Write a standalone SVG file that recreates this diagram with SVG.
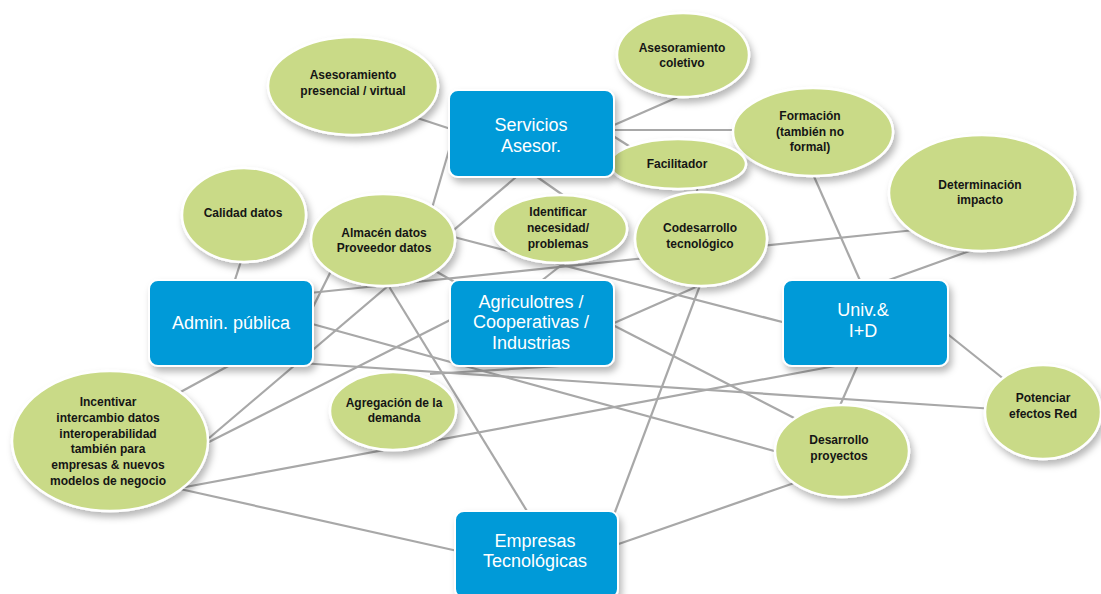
<svg xmlns="http://www.w3.org/2000/svg" width="1101" height="594" viewBox="0 0 1101 594">
<defs>
<filter id="sh" x="-20%" y="-20%" width="150%" height="150%">
<feDropShadow dx="3" dy="5" stdDeviation="3.5" flood-color="#000" flood-opacity="0.28"/>
</filter>
<style>
.bg{fill:#ffffff}
.c line{stroke:#a8a8a8;stroke-width:2.2;fill:none}
.box{fill:#009ad8;stroke:#ffffff;stroke-width:2;filter:url(#sh)}
.ell{fill:#c9da87;stroke:#ffffff;stroke-width:2.5;filter:url(#sh)}
.bt{font-family:"Liberation Sans",Arial,sans-serif;font-size:18px;fill:#ffffff;text-anchor:middle}
.et{font-family:"Liberation Sans",Arial,sans-serif;font-size:12px;font-weight:bold;fill:#151515;text-anchor:middle}
</style>
</defs>
<rect class="bg" x="0" y="0" width="1101" height="594"/>
<g id="connectors" class="c">
<line x1="405" y1="114" x2="460" y2="132"/>
<line x1="685" y1="94" x2="605" y2="129"/>
<line x1="605" y1="130" x2="740" y2="130"/>
<line x1="610" y1="134" x2="632" y2="148"/>
<line x1="452" y1="140" x2="430" y2="215"/>
<line x1="522" y1="172" x2="195" y2="450"/>
<line x1="530" y1="172" x2="570" y2="200"/>
<line x1="695" y1="180" x2="700" y2="205"/>
<line x1="812" y1="172" x2="862" y2="285"/>
<line x1="975" y1="249" x2="875" y2="285"/>
<line x1="300" y1="294" x2="915" y2="230"/>
<line x1="430" y1="268" x2="460" y2="285"/>
<line x1="450" y1="236" x2="790" y2="324"/>
<line x1="335" y1="263" x2="305" y2="323"/>
<line x1="385" y1="280" x2="530" y2="516"/>
<line x1="242" y1="258" x2="233" y2="286"/>
<line x1="568" y1="260" x2="536" y2="285"/>
<line x1="705" y1="283" x2="605" y2="327"/>
<line x1="702" y1="280" x2="612" y2="520"/>
<line x1="605" y1="321" x2="800" y2="421"/>
<line x1="305" y1="322" x2="785" y2="454"/>
<line x1="300" y1="363" x2="995" y2="409"/>
<line x1="860" y1="360" x2="838" y2="410"/>
<line x1="940" y1="328" x2="1005" y2="380"/>
<line x1="175" y1="395" x2="232" y2="364"/>
<line x1="195" y1="449" x2="460" y2="315"/>
<line x1="180" y1="488" x2="835" y2="366"/>
<line x1="180" y1="489" x2="462" y2="552"/>
<line x1="800" y1="481" x2="610" y2="547"/>
<line x1="430" y1="374" x2="560" y2="366"/>
</g>
<g id="n-presencial"><ellipse class="ell" cx="353" cy="86" rx="85" ry="49"/><text class="et" x="353" y="79">Asesoramiento</text><text class="et" x="353" y="95">presencial / virtual</text></g>
<g id="n-coletivo"><ellipse class="ell" cx="683" cy="55" rx="66" ry="42"/><text class="et" x="682" y="52">Asesoramiento</text><text class="et" x="682" y="67">coletivo</text></g>
<g id="n-formacion"><ellipse class="ell" cx="813" cy="132" rx="80" ry="44"/><text class="et" x="810" y="120">Formación</text><text class="et" x="810" y="136">(también no</text><text class="et" x="810" y="151">formal)</text></g>
<g id="n-facilitador"><ellipse class="ell" cx="678" cy="164" rx="68" ry="25"/><text class="et" x="677" y="168">Facilitador</text></g>
<g id="n-determinacion"><ellipse class="ell" cx="982" cy="193" rx="93" ry="58"/><text class="et" x="980" y="189">Determinación</text><text class="et" x="980" y="204">impacto</text></g>
<g id="n-calidad"><ellipse class="ell" cx="244" cy="215" rx="62" ry="47"/><text class="et" x="243" y="217">Calidad datos</text></g>
<g id="n-almacen"><ellipse class="ell" cx="383" cy="240" rx="72" ry="46"/><text class="et" x="384" y="237">Almacén datos</text><text class="et" x="384" y="252">Proveedor datos</text></g>
<g id="n-identificar"><ellipse class="ell" cx="560" cy="229" rx="67" ry="34"/><text class="et" x="558" y="216">Identificar</text><text class="et" x="558" y="232">necesidad/</text><text class="et" x="558" y="248">problemas</text></g>
<g id="n-codesarrollo"><ellipse class="ell" cx="701" cy="239" rx="66" ry="47"/><text class="et" x="700" y="232">Codesarrollo</text><text class="et" x="700" y="248">tecnológico</text></g>
<g id="n-incentivar"><ellipse class="ell" cx="110" cy="441" rx="98" ry="70"/><text class="et" x="108" y="406">Incentivar</text><text class="et" x="108" y="422">intercambio datos</text><text class="et" x="108" y="438">interoperabilidad</text><text class="et" x="108" y="453">también para</text><text class="et" x="108" y="469">empresas &amp; nuevos</text><text class="et" x="108" y="485">modelos de negocio</text></g>
<g id="n-agregacion"><ellipse class="ell" cx="393" cy="411" rx="63" ry="39"/><text class="et" x="394" y="407">Agregación de la</text><text class="et" x="394" y="422">demanda</text></g>
<g id="n-desarrollo"><ellipse class="ell" cx="842" cy="451" rx="67" ry="46"/><text class="et" x="839" y="444">Desarrollo</text><text class="et" x="839" y="460">proyectos</text></g>
<g id="n-potenciar"><ellipse class="ell" cx="1043" cy="412" rx="58" ry="47"/><text class="et" x="1043" y="402">Potenciar</text><text class="et" x="1043" y="418">efectos Red</text></g>
<g id="n-servicios"><rect class="box" x="449" y="90" width="165" height="87" rx="9"/><text class="bt" x="531" y="131">Servicios</text><text class="bt" x="531" y="152">Asesor.</text></g>
<g id="n-admin"><rect class="box" x="149" y="280" width="164" height="86" rx="9"/><text class="bt" x="231" y="329">Admin. pública</text></g>
<g id="n-agric"><rect class="box" x="450" y="280" width="164" height="86" rx="9"/><text class="bt" x="531" y="308">Agriculotres /</text><text class="bt" x="531" y="328">Cooperativas /</text><text class="bt" x="531" y="349">Industrias</text></g>
<g id="n-univ"><rect class="box" x="783" y="280" width="165" height="86" rx="9"/><text class="bt" x="863" y="316">Univ.&amp;</text><text class="bt" x="863" y="337">I+D</text></g>
<g id="n-empresas"><rect class="box" x="455" y="511" width="163" height="87" rx="9"/><text class="bt" x="535" y="547">Empresas</text><text class="bt" x="535" y="567">Tecnológicas</text></g>
</svg>
